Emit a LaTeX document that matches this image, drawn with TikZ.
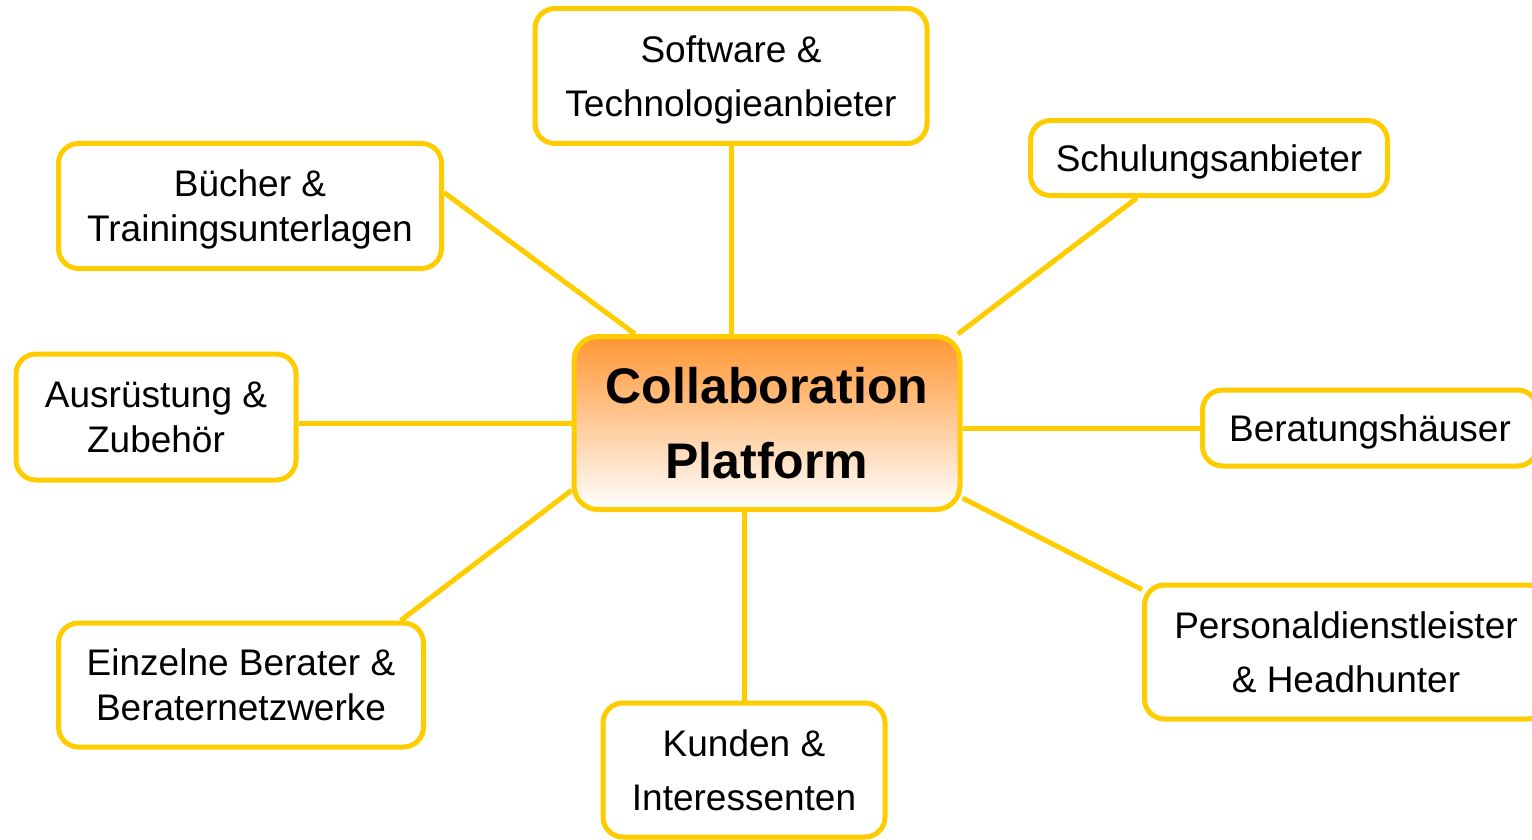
\documentclass[tikz,border=0pt]{standalone}
\usepackage{fontspec}
\setmainfont{Liberation Sans}
\usepackage{tikz}
\usetikzlibrary{backgrounds}
\definecolor{gold}{RGB}{255,204,0}
\definecolor{hubtop}{RGB}{255,150,50}
\tikzstyle{leaf}=[rectangle, rounded corners=10pt, draw=gold, line width=2.5pt, fill=white, align=center, inner sep=2pt, text depth=0pt, font=\fontsize{18.5}{27}\selectfont]
\tikzstyle{snug}=[font=\fontsize{18.5}{22.5}\selectfont]
\tikzstyle{hub}=[rectangle, rounded corners=12pt, draw=gold, line width=2.5pt, top color=hubtop, bottom color=white, align=center, font=\fontsize{25}{37.5}\selectfont\bfseries]
\tikzstyle{link}=[draw=gold, line width=2.5pt]

\begin{document}
\begin{tikzpicture}[x=0.5pt, y=-0.5pt]
    \useasboundingbox (0,0) rectangle (1532,840);
    \node[hub] (hub) at (767,423) [minimum width=193pt, minimum height=86.5pt] {Collaboration\\Platform};

    \node[leaf] (soft) at (731,76) [minimum width=196pt, minimum height=67.5pt] {Software \&\\Technologieanbieter};
    \node[leaf] (schul) at (1209,158) [minimum width=178.5pt, minimum height=37.5pt] {Schulungsanbieter};
    \node[leaf, snug] (buch) at (250,206) [minimum width=191.5pt, minimum height=62.5pt] {Bücher \&\\Trainingsunterlagen};
    \node[leaf, snug] (aus) at (156,417) [minimum width=140pt, minimum height=63pt] {Ausrüstung \&\\Zubehör};
    \node[leaf] (berat) at (1370,428) [minimum width=167.5pt, minimum height=38pt] {Beratungshäuser};
    \node[leaf] (pers) at (1346,652) [minimum width=201.5pt, minimum height=67pt] {Personaldienstleister\\\& Headhunter};
    \node[leaf, snug] (einz) at (241,685) [minimum width=182.5pt, minimum height=62pt] {Einzelne Berater \&\\Beraternetzwerke};
    \node[leaf] (kunden) at (744,770) [minimum width=141pt, minimum height=67pt] {Kunden \&\\Interessenten};

    \begin{scope}[on background layer]
      \draw[link] (soft.south) -- (soft.south |- hub.north);
      \draw[link] (schul.209) -- (hub.25);
      \draw[link] (buch.4) -- (hub.146);
      \draw[link] (hub.west) -- (hub.west -| aus.east);
      \draw[link] (berat.west) -- (berat.west -| hub.east);
      \draw[link] (pers.163) -- (hub.339);
      \draw[link] (einz.22) -- (hub.199);
      \draw[link] (kunden.north) -- (kunden.north |- hub.south);
    \end{scope}
\end{tikzpicture}
\end{document}
